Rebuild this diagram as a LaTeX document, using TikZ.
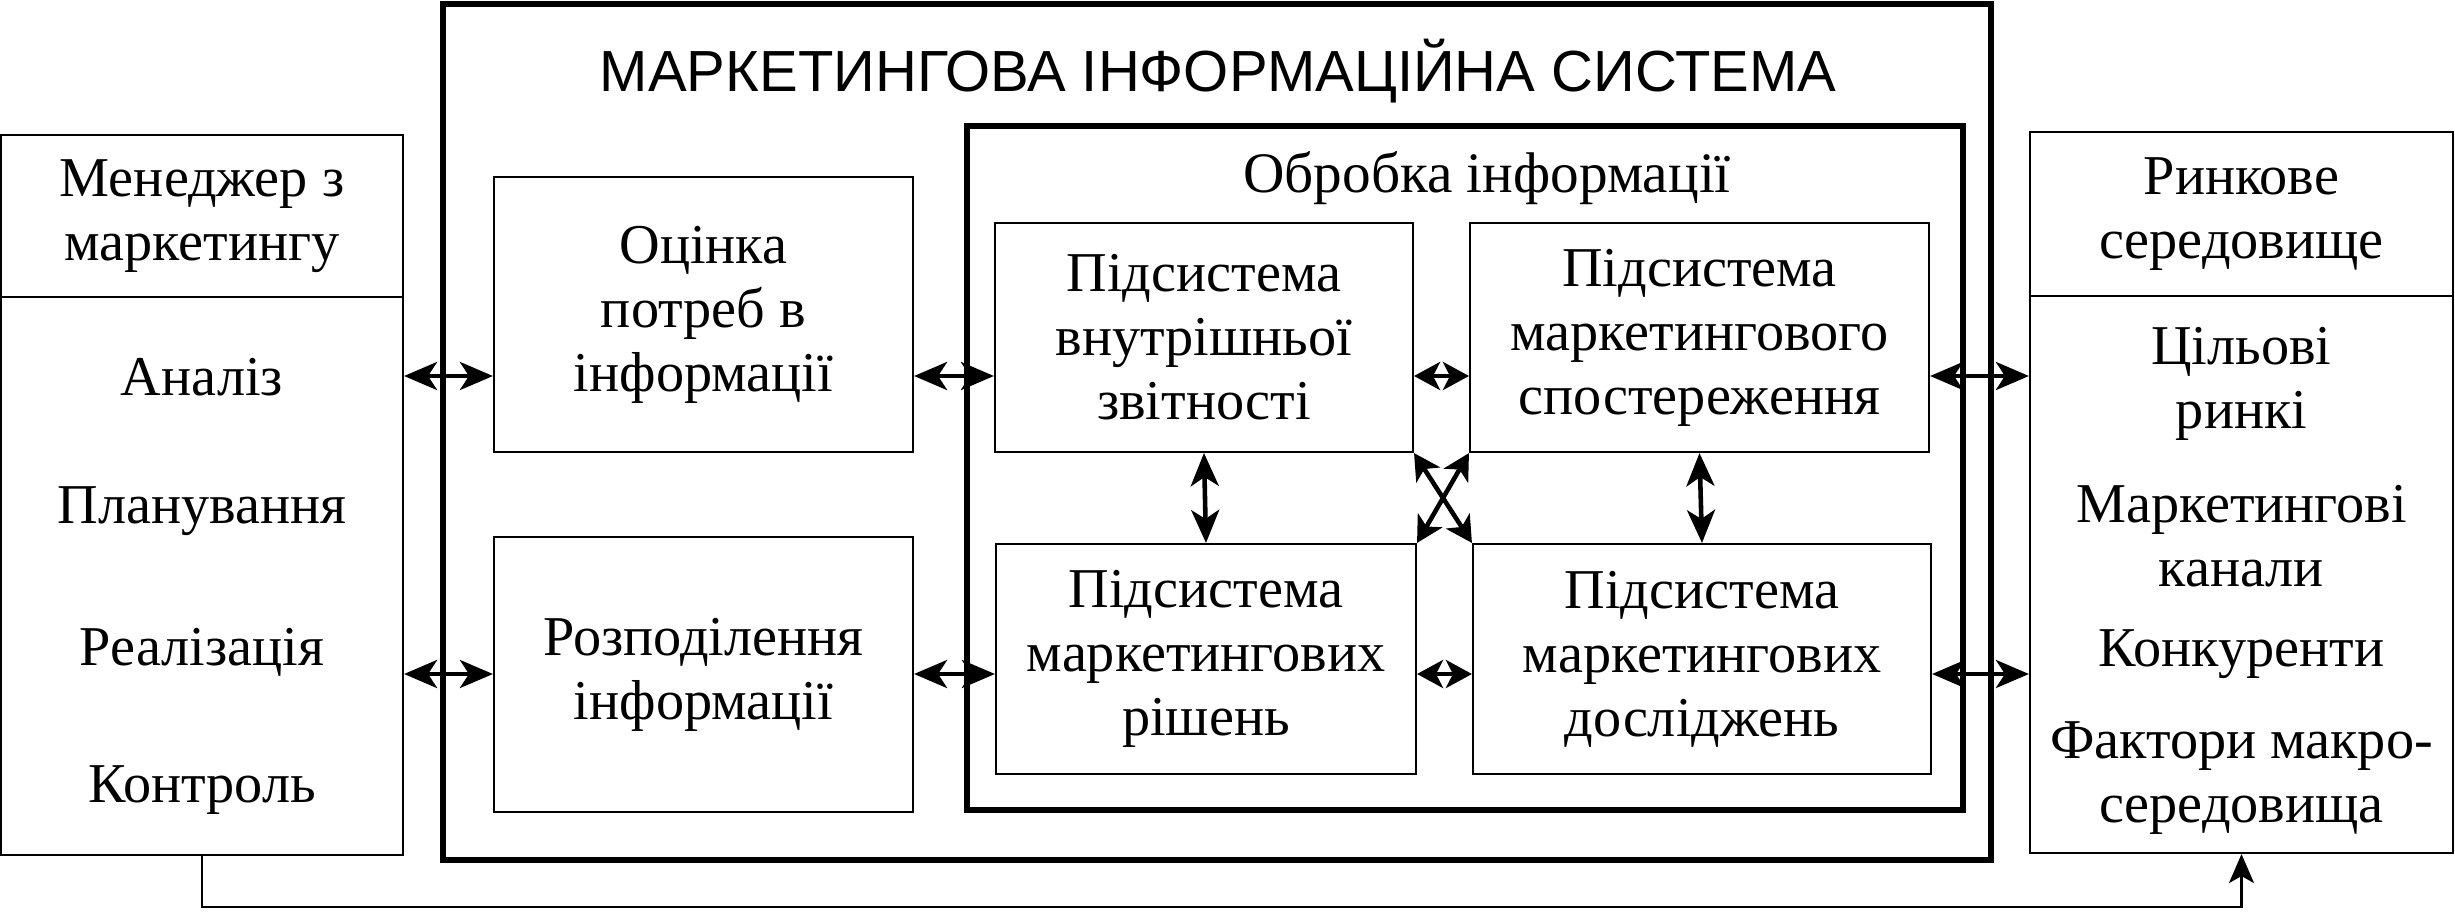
\documentclass[tikz,border=0pt]{standalone}
\usepackage{fontspec}
\setmainfont{Liberation Serif}
\newfontfamily\headfont{Liberation Sans}
\usetikzlibrary{arrows.meta,positioning}

\tikzset{
  block/.style={draw, rectangle, line width=0.6pt, inner sep=0pt, align=center, font=\fontsize{16}{18.2}\selectfont},
  heavybox/.style={draw, rectangle, line width=1.5pt, inner sep=0pt},
  entry/.style={anchor=base, align=center, font=\fontsize{16}{18.2}\selectfont},
  link/.style={line width=1.3pt, {Stealth[length=3.3mm,width=2.8mm,inset=0.9mm]}-{Stealth[length=3.3mm,width=2.8mm,inset=0.9mm]}},
  shortlink/.style={line width=1.3pt, {Stealth[length=2.6mm,width=2.8mm,inset=0.7mm]}-{Stealth[length=2.6mm,width=2.8mm,inset=0.7mm]}},
  feedback/.style={line width=0.7pt, -{Stealth[length=2.9mm,width=2.5mm,inset=0.7mm]}}
}

\begin{document}
\begin{tikzpicture}
\useasboundingbox (0,0) rectangle (24.55,9.11);

% Marketing information system
\node[heavybox, minimum width=15.48cm, minimum height=8.56cm] (mis) at (12.17,4.79) {};
\node[anchor=base, font=\headfont\fontsize{16.5}{18}\selectfont] (mistitle) at (12.18,8.20) {МАРКЕТИНГОВА ІНФОРМАЦІЙНА СИСТЕМА};

% Information processing
\node[heavybox, minimum width=9.96cm, minimum height=6.84cm] (proc) at (14.65,4.43) {};
\node[entry, font=\fontsize{16.3}{18.2}\selectfont] (proctitle) at (14.87,7.19) {Обробка інформації};

% Needs and distribution
\node[block, minimum width=4.19cm, minimum height=2.75cm] (needs) at (7.035,5.965) {Оцінка\\потреб в\\інформації};
\node[block, minimum width=4.19cm, minimum height=2.75cm] (distr) at (7.035,2.365) {Розподілення\\інформації};

% Subsystems
\node[block, minimum width=4.18cm, minimum height=2.29cm] (internal) at (12.04,5.735) {Підсистема\\внутрішньої\\звітності};
\node[block, minimum width=4.59cm, minimum height=2.29cm] (intel) at (16.995,5.735) {Підсистема\\маркетингового\\спостереження};
\node[block, minimum width=4.20cm, minimum height=2.30cm] (decision) at (12.06,2.52) {Підсистема\\маркетингових\\рішень};
\node[block, minimum width=4.58cm, minimum height=2.30cm] (research) at (17.02,2.52) {Підсистема\\маркетингових\\досліджень};

% Marketing manager
\node[block, minimum width=4.02cm, minimum height=1.62cm] (mgrhead) at (2.02,6.95) {Менеджер з\\маркетингу};
\node[block, minimum width=4.02cm, minimum height=5.58cm] (mgrbody) at (2.02,3.35) {};
\node[entry] (analysis) at (2.02,5.16) {Аналіз};
\node[entry] (planning) at (2.02,3.88) {Планування};
\node[entry] (execution) at (2.02,2.46) {Реалізація};
\node[entry] (control) at (2.02,1.09) {Контроль};

% Marketing environment
\node[block, minimum width=4.23cm, minimum height=1.64cm] (envhead) at (22.415,6.97) {Ринкове\\середовище};
\node[block, minimum width=4.23cm, minimum height=5.57cm] (envbody) at (22.415,3.365) {};
\node[entry] (targets) at (22.415,4.83) {Цільові\\ринкі};
\node[entry] (channels) at (22.415,3.25) {Маркетингові\\канали};
\node[entry] (rivals) at (22.415,2.45) {Конкуренти};
\node[entry] (macro) at (22.415,0.89) {Фактори макро-\\середовища};

% Information flows
\coordinate (rowA) at (0,5.35);
\coordinate (rowB) at (0,2.37);
\draw[link] (mgrbody.east |- rowA) -- (needs.west |- rowA);
\draw[link] (mgrbody.east |- rowB) -- (distr.west |- rowB);
\draw[link] (needs.east |- rowA) -- (internal.west |- rowA);
\draw[link] (distr.east |- rowB) -- (decision.west |- rowB);
\draw[shortlink] (internal.east |- rowA) -- (intel.west |- rowA);
\draw[shortlink] (decision.east |- rowB) -- (research.west |- rowB);
\draw[link] (intel.east |- rowA) -- (envbody.west |- rowA);
\draw[link] (research.east |- rowB) -- (envbody.west |- rowB);
\draw[link] (internal.south) -- (decision.north);
\draw[link] (intel.south) -- (research.north);
\draw[shortlink] (internal.south east) -- (research.north west);
\draw[shortlink] (intel.south west) -- (decision.north east);

% Feedback to the environment
\coordinate (fb) at (0,0.04);
\draw[feedback] (mgrbody.south) -- (mgrbody.south |- fb) -- (envbody.south |- fb) -- (envbody.south);

\end{tikzpicture}
\end{document}
